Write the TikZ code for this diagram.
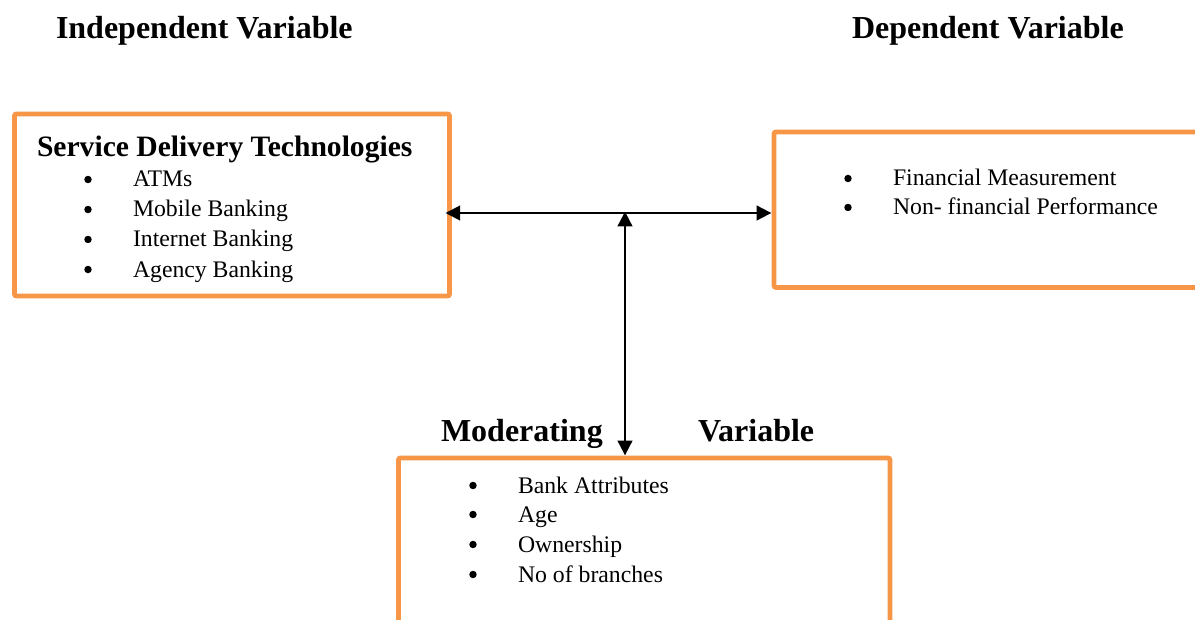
\documentclass[tikz,border=0pt]{standalone}
\usepackage{fontspec}
\setmainfont{Liberation Serif}
\usetikzlibrary{arrows.meta}
\definecolor{boxorange}{HTML}{F79646}

\begin{document}
\begin{tikzpicture}[x=0.75pt, y=-0.75pt, >={Triangle[length=11pt,width=11pt]}, line width=1.5pt]
        \tikzset{
            varbox/.style={draw=boxorange, line width=3.6pt, rounded corners=1.5pt, outer sep=0pt, inner sep=0pt, anchor=north west},
            heading/.style={font=\fontsize{24}{28}\selectfont\bfseries, inner sep=0pt, anchor=base west},
            item/.style={font=\fontsize{17.8}{21}\selectfont, inner sep=0pt, anchor=base west},
            dot/.style={circle, fill=black, inner sep=0pt, minimum size=5.6pt},
        }
        \useasboundingbox (0,0) rectangle (1195,620);

        % headings
        \node[heading] (indep) at (55, 39) {Independent Variable};
        \node[heading] (dep) at (851, 39) {Dependent Variable};
        \node[heading] (modw) at (440, 441) {Moderating};
        \node[heading] (modv) at (697, 441) {Variable};

        % boxes
        \node[varbox, minimum width=326.25pt, minimum height=136.5pt] (sdt) at (14.5, 114) {};
        \node[varbox, minimum width=323.25pt, minimum height=116.6pt] (perf) at (774, 132) {};
        \node[varbox, minimum width=368.6pt, minimum height=130pt] (mod) at (398.5, 458) {};

        % bullet lists
        \newcommand{\listitem}[4]{
            \node[dot] (#1d) at (#2, #3-7.5) {};
            \node[item] (#1) at (#2+44, #3) {#4};
        }
        \node[heading, font=\fontsize{22.2}{26}\selectfont\bfseries] (sdttitle) at (36, 157) {Service Delivery Technologies};
        \listitem{atm}{88}{187}{ATMs}
        \listitem{mob}{88}{217}{Mobile Banking}
        \listitem{inet}{88}{247}{Internet Banking}
        \listitem{agency}{88}{277}{Agency Banking}

        \listitem{fin}{848}{186}{Financial Measurement}
        \listitem{nonfin}{848}{215}{Non- financial Performance}

        \listitem{attr}{473}{493}{Bank Attributes}
        \listitem{age}{473}{522}{Age}
        \listitem{owner}{473}{552}{Ownership}
        \listitem{branch}{473}{582}{No of branches}

        % connectors
        \coordinate (tee) at (625, 213);
        \draw[<->] ([xshift=-3pt]sdt.east |- tee) -- ([xshift=-2pt]perf.west |- tee);
        \draw[<->] ([yshift=1pt]tee) -- ([yshift=2pt]tee |- mod.north);
    \end{tikzpicture}
\end{document}
